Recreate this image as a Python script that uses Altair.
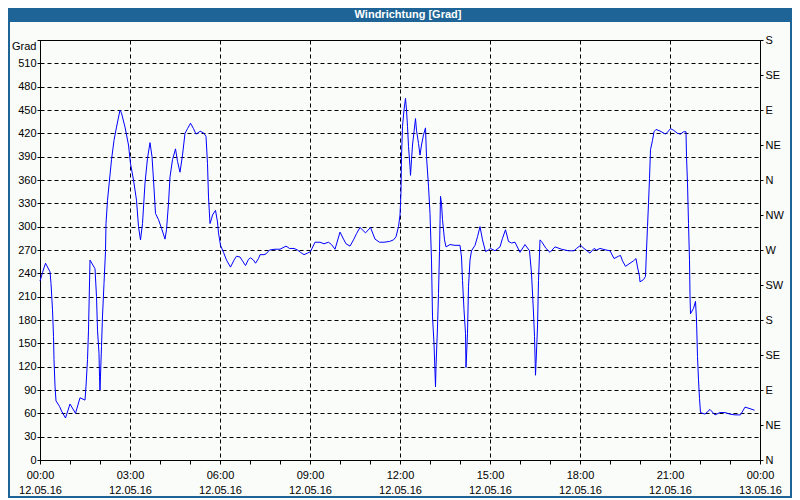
import json
import altair as alt
import pandas as pd

# ---- data (minutes after 12.05.16 00:00, wind direction in degrees)
minutes = [
    0, 5, 11, 20, 22, 25, 27, 28, 30, 32, 39, 43, 51, 60, 71, 80, 90, 92, 95, 97,
    100, 110, 113, 115, 118, 119, 120, 123, 125, 128, 131, 132, 135, 139, 143, 148, 153, 160, 163, 170,
    177, 181, 187, 193, 197, 201, 205, 210, 215, 220, 224, 227, 231, 237, 243, 250, 253, 257, 260, 265,
    271, 275, 280, 285, 290, 295, 301, 307, 312, 319,
    320, 328, 332, 335, 337, 340, 343, 345, 351, 355, 357, 361, 367, 373, 381, 388, 393, 400, 405, 411,
    417, 421, 427, 431, 437, 440, 448, 452, 459, 470, 480, 492, 499, 508, 515, 521, 528, 535, 541, 550,
    560, 568, 577, 583, 590, 600, 607, 612, 620, 627, 633, 640, 651, 661, 670, 679, 688, 699, 707, 712,
    717, 720,
    722, 723, 725, 728, 731, 733, 735, 737, 740, 741, 743, 745, 748, 751, 753, 757, 760, 763, 767, 771,
    773, 777, 780, 783, 785, 788, 791, 792, 795, 797, 799, 801, 803, 805, 809, 812, 820, 830, 840, 843,
    845, 848, 851, 852, 855, 857, 860, 863, 870, 875, 880, 885, 891, 897, 901, 910, 920, 925, 931, 937,
    943, 950, 960, 970, 979, 983, 987, 989, 991, 992, 995, 997, 1000, 1003, 1012, 1020, 1030, 1043, 1057, 1068,
    1073, 1081, 1088, 1100, 1108, 1113, 1120, 1132, 1140, 1148, 1157, 1161, 1165, 1171, 1180, 1187, 1192, 1195, 1199, 1200,
    1207, 1211, 1213, 1215, 1217, 1219, 1221, 1225, 1228, 1232, 1240, 1251, 1257, 1261, 1267, 1275, 1281, 1287, 1292, 1293,
    1295, 1297, 1299, 1300, 1301, 1307, 1311, 1313, 1315, 1317, 1319, 1321, 1330, 1340, 1350, 1360, 1370, 1380, 1390, 1401,
    1410, 1420, 1429,
]
degrees = [
    230, 241, 253, 242, 227, 193, 159, 129, 95, 76, 69, 63, 54, 72, 60, 80, 77, 95, 129, 167,
    257, 246, 210, 167, 137, 107, 90, 146, 185, 227, 268, 304, 334, 360, 386, 411, 428, 450, 446, 428,
    405, 381, 360, 334, 300, 283, 304, 356, 388, 408, 390, 360, 317, 309, 298, 284, 296, 330, 364, 386,
    400, 384, 370, 392, 420, 426, 433, 426, 419, 422,
    423, 420, 416, 381, 338, 304, 310, 315, 321, 306, 292, 276, 267, 257, 248, 257, 262, 261, 256, 250,
    258, 260, 257, 253, 259, 264, 264, 265, 270, 271, 271, 275, 272, 272, 270, 267, 264, 266, 268, 280,
    280, 278, 280, 277, 271, 293, 284, 278, 275, 283, 291, 299, 292, 299, 284, 280, 280, 281, 283, 287,
    300, 315,
    345, 390, 429, 450, 465, 450, 429, 403, 377, 366, 386, 405, 422, 439, 424, 407, 392, 405, 418, 427,
    390, 352, 317, 257, 184, 150, 94, 120, 171, 214, 268, 339, 330, 309, 283, 274, 277, 276, 276, 261,
    231, 193, 163, 119, 163, 223, 257, 269, 276, 287, 300, 283, 268, 270, 272, 269, 274, 285, 296, 281,
    279, 280, 267, 277, 269, 240, 189, 159, 109, 124, 171, 231, 283, 281, 272, 267, 274, 271, 269, 269,
    272, 276, 272, 266, 272, 270, 272, 270, 269, 259, 262, 263, 256, 249, 253, 256, 259, 248, 236, 229,
    232, 236, 270, 300, 330, 362, 399, 411, 422, 425, 423, 419, 423, 426, 424, 420, 419, 422, 422, 390,
    356, 304, 257, 212, 188, 195, 204, 180, 133, 103, 79, 61, 59, 65, 58, 61, 61, 59, 58, 58,
    68, 66, 64,
]

# ---- axis ticks / labels
hour_ticks = list(range(0, 1441, 60))
time_labels = ["00:00", "03:00", "06:00", "09:00", "12:00", "15:00", "18:00", "21:00", "00:00"]
date_labels = ["12.05.16"] * 8 + ["13.05.16"]
left_ticks = list(range(0, 541, 30))
right_ticks = list(range(0, 541, 45))
compass = ["N", "NE", "E", "SE", "S", "SW", "W", "NW", "N", "NE", "E", "SE", "S"]
title_text = "Windrichtung [Grad]"
unit_text = "Grad"

BLUE = "#1e6496"
BG = "#fafcfa"
FONT = "Liberation Sans"

df = pd.DataFrame({"min": minutes, "deg": degrees})
deco = pd.DataFrame({"k": [0]})

pairs = [[t, d] for t, d in zip(time_labels, date_labels)]
x_label_expr = f"datum.value % 180 === 0 ? {json.dumps(pairs)}[round(datum.value / 180)] : ''"
right_label_expr = f"{json.dumps(compass)}[round(datum.value / 45)]"
left_label_expr = f"datum.value === 540 ? '{unit_text}' : datum.label"


def x_enc():
    return alt.X(
        "min:Q",
        scale=alt.Scale(domain=[0, 1440], nice=False, zero=False),
        axis=alt.Axis(
            values=hour_ticks,
            labelExpr=x_label_expr,
            title=None,
            grid=True,
            gridColor="black",
            gridDash=[4, 3],
            gridWidth=1,
            gridOpacity={"condition": {"test": "datum.value % 180 === 0", "value": 1}, "value": 0},
            tickSize=4,
            tickColor="black",
            domainColor="black",
            labelColor="black",
            labelFont=FONT,
            labelFontSize=11,
            labelPadding=5,
            labelLineHeight=15,
            labelBaseline="top",
            labelAlign="center",
            labelFlush=False,
            labelOverlap=False,
        ),
    )


y_scale = alt.Scale(domain=[0, 540], nice=False, zero=True)

line = alt.Chart(df).mark_line(color="#0000ff", strokeWidth=1).encode(
    x=x_enc(),
    y=alt.Y(
        "deg:Q",
        scale=y_scale,
        axis=alt.Axis(
            values=left_ticks,
            labelExpr=left_label_expr,
            title=None,
            grid=True,
            gridColor="black",
            gridDash=[4, 3],
            gridWidth=1,
            tickSize=3,
            tickColor="black",
            domainColor="black",
            labelColor="black",
            labelFont=FONT,
            labelFontSize=11,
            labelPadding=1,
            labelBaseline={"condition": {"test": "datum.value === 540", "value": "top"}, "value": "middle"},
            labelFlush=False,
            labelOverlap=False,
        ),
    ),
)

right = alt.Chart(df).mark_line(opacity=0).encode(
    x=x_enc(),
    y=alt.Y(
        "deg:Q",
        scale=y_scale,
        axis=alt.Axis(
            orient="right",
            values=right_ticks,
            labelExpr=right_label_expr,
            title=None,
            grid=False,
            tickSize=3,
            tickColor="black",
            domainColor="black",
            labelColor="black",
            labelFont=FONT,
            labelFontSize=11,
            labelPadding=2,
            labelFlush=False,
            labelOverlap=False,
        ),
    ),
)

bar = alt.Chart(deco).mark_rect(color=BLUE).encode(
    x=alt.value(-32), x2=alt.value(752), y=alt.value(-32), y2=alt.value(-18)
)
border = alt.Chart(deco).mark_rect(fillOpacity=0, stroke=BLUE, strokeWidth=2).encode(
    x=alt.value(-31), x2=alt.value(751), y=alt.value(-31), y2=alt.value(457)
)
title = alt.Chart(deco).mark_text(
    text=title_text, color="white", font=FONT, fontSize=11, fontWeight="bold",
    align="center", baseline="middle",
).encode(x=alt.value(368), y=alt.value(-25))

chart = (
    alt.layer(bar, border, line, right, title)
    .resolve_axis(y="independent")
    .properties(
        width=720,
        height=420,
        autosize=alt.AutoSizeParams(type="none"),
        padding={"left": 32, "top": 32, "right": 32, "bottom": 38},
        background=BG,
    )
    .configure_view(stroke="black", strokeWidth=1)
)

chart.save("out.html", embed_options={"renderer": "svg", "actions": False})
